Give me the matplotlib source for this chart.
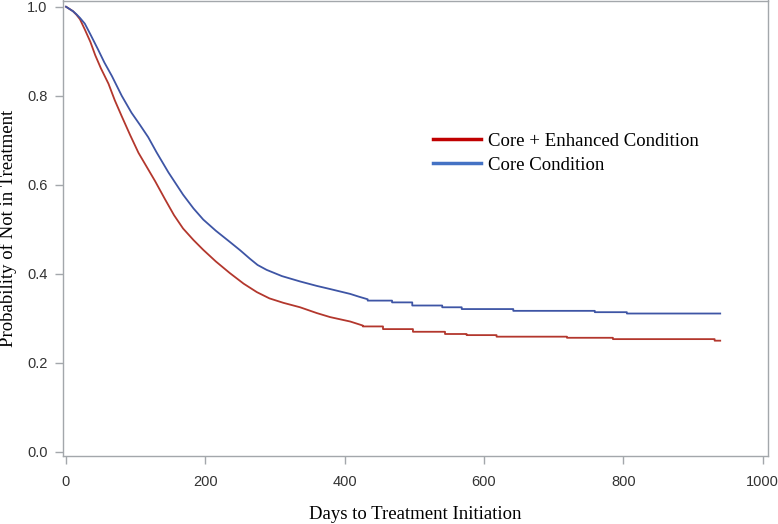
import matplotlib
matplotlib.use("Agg")
import matplotlib.pyplot as plt
from matplotlib.lines import Line2D

# Core + Enhanced Condition
enh_days = [0, 5, 10, 15, 20, 27, 35, 42, 50, 61, 70, 80, 92, 104, 116, 128, 142, 155,
            168, 183, 197, 215, 235, 255, 274, 292, 312, 336, 360, 379, 408, 426,
            426, 455, 455, 498, 498, 544, 544, 575, 575, 618, 618, 719, 719, 785, 785,
            931, 931, 939]
enh_vals = [1.0, 0.995, 0.99, 0.982, 0.972, 0.949, 0.921, 0.891, 0.862, 0.827, 0.790,
            0.754, 0.712, 0.672, 0.640, 0.608, 0.568, 0.532, 0.502, 0.476, 0.454, 0.428,
            0.402, 0.378, 0.359, 0.345, 0.335, 0.325, 0.312, 0.303, 0.293, 0.284,
            0.282, 0.282, 0.276, 0.276, 0.270, 0.270, 0.265, 0.265, 0.2625, 0.2625,
            0.259, 0.259, 0.2565, 0.2565, 0.2535, 0.2535, 0.250, 0.250]

# Core Condition
core_days = [0, 5, 10, 15, 20, 27, 35, 46, 55, 66, 80, 94, 106, 118, 130, 147, 168, 183,
             197, 215, 235, 250, 264, 275, 288, 310, 336, 360, 379, 408, 420, 433,
             433, 468, 468, 497, 497, 540, 540, 568, 568, 642, 642, 759, 759, 805, 805, 939]
core_vals = [1.0, 0.995, 0.99, 0.983, 0.975, 0.962, 0.938, 0.904, 0.875, 0.844, 0.800,
             0.762, 0.735, 0.707, 0.673, 0.628, 0.578, 0.547, 0.522, 0.497, 0.472, 0.453,
             0.434, 0.420, 0.409, 0.395, 0.383, 0.373, 0.366, 0.355, 0.349, 0.343,
             0.340, 0.340, 0.336, 0.336, 0.329, 0.329, 0.325, 0.325, 0.321, 0.321,
             0.317, 0.317, 0.314, 0.314, 0.311, 0.311]

labels = ["Core + Enhanced Condition", "Core Condition"]
xticks = [0, 200, 400, 600, 800, 1000]
yticks = [0.0, 0.2, 0.4, 0.6, 0.8, 1.0]

serif = "Liberation Serif"
sans = "Liberation Sans"
spine_col = "#a3a7ab"

fig = plt.figure(figsize=(7.78, 5.24), dpi=100)
ax = fig.add_axes([63 / 778, 1 - 456 / 524, 705 / 778, 455.5 / 524])

ax.plot(enh_days, enh_vals, color="#b3372d", lw=1.3)
ax.plot(core_days, core_vals, color="#3e55a5", lw=1.3)

ax.set_xlim(-4.3, 1007.6)
ax.set_ylim(-0.009, 1.014)
ax.set_xticks(xticks)
ax.set_xticklabels([str(t) for t in xticks], family=sans, fontsize=10.5, color="#333333")
ax.set_yticks(yticks)
ax.set_yticklabels(["%.1f" % t for t in yticks], family=sans, fontsize=10.5, color="#333333")
ax.tick_params(length=6, width=1, color=spine_col, pad=5)
ax.tick_params(axis="x", pad=8)
for s in ax.spines.values():
    s.set_color(spine_col)
    s.set_linewidth(1)

ax.set_xlabel("Days to Treatment Initiation", family=serif, fontsize=13.5, labelpad=12)
ax.set_ylabel("Probability of Not in Treatment", family=serif, fontsize=13.5, labelpad=7)

handles = [Line2D([], [], color="#c00000", lw=2.5),
           Line2D([], [], color="#4472c4", lw=2.5)]
ax.legend(handles, labels, loc="upper left", bbox_to_anchor=(0.525, 0.71),
          frameon=False, prop={"family": serif, "size": 13.5}, borderpad=0,
          borderaxespad=0, handlelength=2.55, handletextpad=0.4, labelspacing=0.36)

plt.savefig("out.png", dpi=100)
